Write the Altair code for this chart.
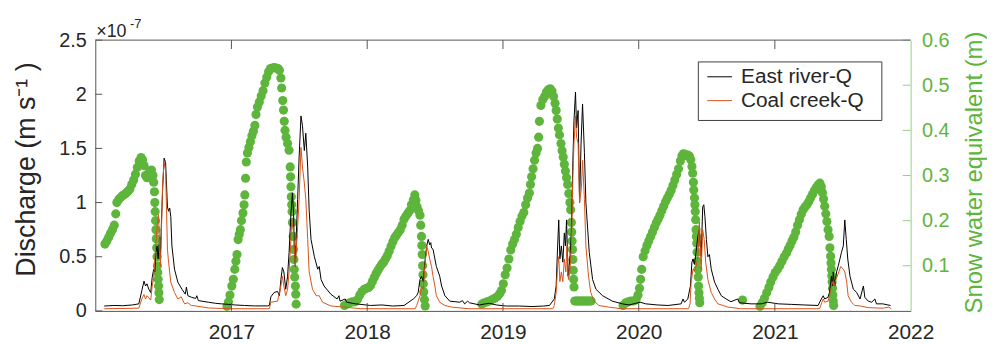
import altair as alt
import pandas as pd

# ---------------- data ----------------
# Discharge in units of 1e-7 m/s
east_river_q = [
    ("2016-01-25", 0.045), ("2016-02-20", 0.05), ("2016-03-15", 0.048), ("2016-04-10", 0.055),
    ("2016-04-27", 0.065), ("2016-05-06", 0.2), ("2016-05-11", 0.275), ("2016-05-15", 0.23),
    ("2016-05-19", 0.25), ("2016-05-24", 0.2), ("2016-05-29", 0.17), ("2016-06-02", 0.31),
    ("2016-06-06", 0.385), ("2016-06-09", 0.36), ("2016-06-12", 0.54), ("2016-06-15", 0.6),
    ("2016-06-18", 0.48), ("2016-06-22", 0.68), ("2016-06-24", 0.48), ("2016-06-27", 0.84),
    ("2016-06-30", 1.12), ("2016-07-04", 1.41), ("2016-07-08", 1.37), ("2016-07-10", 1.21),
    ("2016-07-13", 0.96), ("2016-07-16", 0.92), ("2016-07-19", 0.95), ("2016-07-22", 0.87),
    ("2016-07-25", 0.6), ("2016-08-01", 0.385), ("2016-08-10", 0.265), ("2016-08-21", 0.2),
    ("2016-08-30", 0.155), ("2016-09-02", 0.22), ("2016-09-06", 0.14), ("2016-09-16", 0.125),
    ("2016-09-27", 0.115), ("2016-09-30", 0.14), ("2016-10-04", 0.095), ("2016-10-31", 0.08),
    ("2016-11-20", 0.07), ("2016-12-05", 0.065), ("2016-12-25", 0.06), ("2017-01-10", 0.055),
    ("2017-02-05", 0.05), ("2017-03-04", 0.046), ("2017-04-08", 0.046), ("2017-04-13", 0.05),
    ("2017-04-17", 0.13), ("2017-04-26", 0.17), ("2017-05-05", 0.18), ("2017-05-10", 0.14),
    ("2017-05-14", 0.29), ("2017-05-18", 0.4), ("2017-05-22", 0.36), ("2017-05-27", 0.2),
    ("2017-06-01", 0.32), ("2017-06-05", 0.54), ("2017-06-10", 0.9), ("2017-06-14", 1.09),
    ("2017-06-17", 0.9), ("2017-06-19", 0.6), ("2017-06-22", 0.41), ("2017-06-24", 0.66),
    ("2017-06-28", 1.03), ("2017-07-02", 1.42), ("2017-07-07", 1.8), ("2017-07-11", 1.71),
    ("2017-07-16", 1.48), ("2017-07-20", 1.64), ("2017-07-25", 1.33), ("2017-07-29", 0.93),
    ("2017-08-03", 0.66), ("2017-08-12", 0.5), ("2017-08-21", 0.385), ("2017-08-25", 0.41),
    ("2017-08-30", 0.29), ("2017-09-07", 0.23), ("2017-09-25", 0.155), ("2017-10-12", 0.11),
    ("2017-10-17", 0.14), ("2017-10-20", 0.09), ("2017-11-03", 0.11), ("2017-11-07", 0.08),
    ("2017-12-01", 0.065), ("2018-01-10", 0.05), ("2018-02-10", 0.055), ("2018-03-10", 0.045),
    ("2018-04-10", 0.05), ("2018-05-05", 0.11), ("2018-05-14", 0.14), ("2018-05-18", 0.17),
    ("2018-05-23", 0.29), ("2018-05-27", 0.32), ("2018-06-01", 0.27), ("2018-06-05", 0.45),
    ("2018-06-10", 0.6), ("2018-06-14", 0.66), ("2018-06-18", 0.61), ("2018-06-21", 0.63),
    ("2018-06-23", 0.58), ("2018-06-27", 0.57), ("2018-07-02", 0.48), ("2018-07-06", 0.41),
    ("2018-07-11", 0.36), ("2018-07-15", 0.32), ("2018-07-20", 0.23), ("2018-07-29", 0.14),
    ("2018-08-11", 0.09), ("2018-08-25", 0.085), ("2018-09-07", 0.08), ("2018-09-14", 0.095),
    ("2018-09-20", 0.065), ("2018-09-28", 0.09), ("2018-10-03", 0.075), ("2018-10-30", 0.055),
    ("2018-11-15", 0.065), ("2018-11-26", 0.07), ("2018-12-14", 0.055), ("2019-01-10", 0.045),
    ("2019-02-15", 0.045), ("2019-03-20", 0.04), ("2019-04-20", 0.045), ("2019-05-06", 0.05),
    ("2019-05-19", 0.11), ("2019-05-24", 0.23), ("2019-05-28", 0.6), ("2019-05-31", 0.84),
    ("2019-06-03", 0.48), ("2019-06-07", 0.6), ("2019-06-11", 0.45), ("2019-06-15", 0.72),
    ("2019-06-18", 0.6), ("2019-06-21", 0.84), ("2019-06-25", 0.32), ("2019-06-30", 0.48),
    ("2019-07-04", 0.72), ("2019-07-08", 1.39), ("2019-07-11", 1.76), ("2019-07-15", 2.02),
    ("2019-07-18", 1.69), ("2019-07-22", 1.85), ("2019-07-26", 1.0), ("2019-07-30", 1.55),
    ("2019-08-03", 1.91), ("2019-08-08", 1.46), ("2019-08-12", 1.0), ("2019-08-21", 0.54),
    ("2019-08-30", 0.29), ("2019-09-08", 0.2), ("2019-09-26", 0.14), ("2019-10-22", 0.09),
    ("2019-11-18", 0.065), ("2019-12-06", 0.055), ("2019-12-24", 0.07), ("2020-01-05", 0.08),
    ("2020-01-20", 0.065), ("2020-02-20", 0.055), ("2020-03-20", 0.05), ("2020-04-24", 0.065),
    ("2020-04-29", 0.11), ("2020-05-03", 0.08), ("2020-05-12", 0.11), ("2020-05-19", 0.23),
    ("2020-05-23", 0.45), ("2020-05-26", 0.48), ("2020-05-30", 0.43), ("2020-06-03", 0.54),
    ("2020-06-08", 0.69), ("2020-06-12", 0.75), ("2020-06-17", 0.5), ("2020-06-21", 0.96),
    ("2020-06-24", 0.98), ("2020-06-27", 0.87), ("2020-07-01", 0.66), ("2020-07-05", 0.5),
    ("2020-07-09", 0.52), ("2020-07-14", 0.385), ("2020-07-23", 0.265), ("2020-08-01", 0.2),
    ("2020-08-10", 0.14), ("2020-08-23", 0.11), ("2020-09-05", 0.085), ("2020-09-23", 0.11),
    ("2020-09-28", 0.075), ("2020-10-29", 0.065), ("2020-11-25", 0.065), ("2020-12-13", 0.08),
    ("2021-01-10", 0.065), ("2021-02-15", 0.06), ("2021-03-20", 0.055), ("2021-04-27", 0.05),
    ("2021-05-06", 0.11), ("2021-05-11", 0.14), ("2021-05-15", 0.11), ("2021-05-24", 0.125),
    ("2021-05-28", 0.17), ("2021-06-02", 0.32), ("2021-06-05", 0.23), ("2021-06-07", 0.36),
    ("2021-06-11", 0.23), ("2021-06-16", 0.36), ("2021-06-20", 0.41), ("2021-06-25", 0.48),
    ("2021-06-29", 0.54), ("2021-07-04", 0.6), ("2021-07-07", 0.78), ("2021-07-08", 0.84),
    ("2021-07-12", 0.66), ("2021-07-16", 0.48), ("2021-07-22", 0.32), ("2021-07-31", 0.2),
    ("2021-08-09", 0.17), ("2021-08-18", 0.11), ("2021-08-27", 0.23), ("2021-08-31", 0.125),
    ("2021-09-09", 0.09), ("2021-09-18", 0.08), ("2021-09-27", 0.11), ("2021-10-01", 0.065),
    ("2021-10-18", 0.065), ("2021-11-01", 0.055), ("2021-11-08", 0.05),
]

coal_creek_q = [
    ("2016-01-25", 0.02), ("2016-04-27", 0.025), ("2016-05-06", 0.12), ("2016-05-11", 0.15),
    ("2016-05-15", 0.11), ("2016-05-19", 0.14), ("2016-05-24", 0.12), ("2016-05-29", 0.1),
    ("2016-06-02", 0.23), ("2016-06-06", 0.3), ("2016-06-09", 0.48), ("2016-06-15", 0.78),
    ("2016-06-19", 0.89), ("2016-06-22", 0.6), ("2016-06-24", 0.41), ("2016-06-27", 0.75),
    ("2016-06-30", 1.18), ("2016-07-04", 1.37), ("2016-07-08", 1.3), ("2016-07-13", 0.57),
    ("2016-07-16", 0.45), ("2016-07-22", 0.265), ("2016-08-01", 0.17), ("2016-08-10", 0.11),
    ("2016-08-19", 0.13), ("2016-08-28", 0.065), ("2016-09-06", 0.075), ("2016-09-15", 0.05),
    ("2016-09-27", 0.046), ("2016-10-31", 0.027), ("2016-12-31", 0.02), ("2017-04-13", 0.02),
    ("2017-04-17", 0.08), ("2017-05-05", 0.09), ("2017-05-14", 0.23), ("2017-05-18", 0.32),
    ("2017-05-22", 0.23), ("2017-05-27", 0.14), ("2017-06-01", 0.2), ("2017-06-05", 0.36),
    ("2017-06-10", 0.66), ("2017-06-12", 0.84), ("2017-06-17", 0.72), ("2017-06-22", 0.41),
    ("2017-06-28", 0.78), ("2017-07-02", 1.03), ("2017-07-07", 1.51), ("2017-07-11", 1.33),
    ("2017-07-16", 1.18), ("2017-07-20", 1.03), ("2017-07-25", 0.66), ("2017-07-29", 0.36),
    ("2017-08-07", 0.2), ("2017-08-17", 0.14), ("2017-08-25", 0.14), ("2017-09-03", 0.08),
    ("2017-09-25", 0.046), ("2017-10-31", 0.035), ("2017-12-15", 0.02), ("2018-05-10", 0.02),
    ("2018-05-14", 0.05), ("2018-05-23", 0.14), ("2018-05-27", 0.23), ("2018-06-01", 0.2),
    ("2018-06-05", 0.41), ("2018-06-10", 0.6), ("2018-06-14", 0.55), ("2018-06-18", 0.48),
    ("2018-06-23", 0.41), ("2018-06-27", 0.32), ("2018-07-02", 0.23), ("2018-07-06", 0.14),
    ("2018-07-15", 0.08), ("2018-07-29", 0.05), ("2018-08-16", 0.035), ("2018-10-01", 0.02),
    ("2019-05-15", 0.02), ("2019-05-19", 0.05), ("2019-05-24", 0.17), ("2019-05-28", 0.41),
    ("2019-05-31", 0.5), ("2019-06-03", 0.27), ("2019-06-07", 0.36), ("2019-06-11", 0.27),
    ("2019-06-15", 0.48), ("2019-06-19", 0.36), ("2019-06-22", 0.6), ("2019-06-26", 0.29),
    ("2019-06-30", 0.36), ("2019-07-04", 0.6), ("2019-07-08", 1.24), ("2019-07-11", 1.55),
    ("2019-07-15", 1.8), ("2019-07-18", 1.6), ("2019-07-22", 1.55), ("2019-07-26", 1.0),
    ("2019-07-31", 1.14), ("2019-08-03", 1.39), ("2019-08-08", 1.03), ("2019-08-12", 0.6),
    ("2019-08-19", 0.32), ("2019-08-25", 0.17), ("2019-09-03", 0.09), ("2019-09-16", 0.05),
    ("2019-10-12", 0.035), ("2019-11-15", 0.02), ("2020-05-14", 0.02), ("2020-05-18", 0.065),
    ("2020-05-21", 0.265), ("2020-05-26", 0.385), ("2020-05-30", 0.37), ("2020-06-03", 0.41),
    ("2020-06-08", 0.5), ("2020-06-12", 0.82), ("2020-06-17", 0.385), ("2020-06-21", 0.75),
    ("2020-06-25", 0.66), ("2020-06-29", 0.45), ("2020-07-05", 0.29), ("2020-07-14", 0.17),
    ("2020-07-23", 0.11), ("2020-08-01", 0.065), ("2020-08-28", 0.035), ("2020-10-01", 0.02),
    ("2021-05-01", 0.02), ("2021-05-06", 0.065), ("2021-05-11", 0.11), ("2021-05-15", 0.08),
    ("2021-05-24", 0.09), ("2021-05-30", 0.17), ("2021-06-05", 0.27), ("2021-06-09", 0.23),
    ("2021-06-14", 0.29), ("2021-06-20", 0.34), ("2021-06-27", 0.41), ("2021-07-04", 0.385),
    ("2021-07-08", 0.36), ("2021-07-13", 0.27), ("2021-07-17", 0.14), ("2021-07-26", 0.08),
    ("2021-08-04", 0.05), ("2021-08-20", 0.045), ("2021-09-09", 0.03), ("2021-10-18", 0.025),
    ("2021-11-03", 0.035), ("2021-11-10", 0.02),
]

# Snow water equivalent (m)
swe_2016 = [
    ("2016-01-27", 0.148), ("2016-02-01", 0.155), ("2016-02-06", 0.163), ("2016-02-11", 0.172),
    ("2016-02-16", 0.18), ("2016-02-21", 0.19), ("2016-02-25", 0.215), ("2016-02-28", 0.24),
    ("2016-03-04", 0.247), ("2016-03-09", 0.251), ("2016-03-14", 0.255), ("2016-03-19", 0.258),
    ("2016-03-24", 0.261), ("2016-03-29", 0.265), ("2016-04-03", 0.27), ("2016-04-08", 0.28),
    ("2016-04-13", 0.29), ("2016-04-18", 0.303), ("2016-04-23", 0.318), ("2016-04-28", 0.332),
    ("2016-05-03", 0.34), ("2016-05-07", 0.335), ("2016-05-11", 0.322), ("2016-05-15", 0.3),
    ("2016-05-19", 0.295), ("2016-05-23", 0.305), ("2016-05-27", 0.31), ("2016-05-31", 0.312),
    ("2016-06-04", 0.3), ("2016-06-06", 0.285), ("2016-06-08", 0.264), ("2016-06-09", 0.24),
    ("2016-06-10", 0.22), ("2016-06-11", 0.2), ("2016-06-12", 0.18), ("2016-06-13", 0.16),
    ("2016-06-14", 0.14), ("2016-06-15", 0.12), ("2016-06-16", 0.1), ("2016-06-17", 0.085),
    ("2016-06-18", 0.07), ("2016-06-19", 0.055), ("2016-06-20", 0.04), ("2016-06-21", 0.025),
]
swe_2017 = [
    ("2016-12-20", 0.01), ("2016-12-24", 0.02), ("2016-12-28", 0.035), ("2017-01-02", 0.055),
    ("2017-01-06", 0.07), ("2017-01-10", 0.092), ("2017-01-13", 0.11), ("2017-01-16", 0.125),
    ("2017-01-19", 0.158), ("2017-01-22", 0.17), ("2017-01-25", 0.18), ("2017-01-28", 0.2),
    ("2017-02-01", 0.217), ("2017-02-04", 0.235), ("2017-02-06", 0.257), ("2017-02-08", 0.294),
    ("2017-02-10", 0.33), ("2017-02-13", 0.35), ("2017-02-17", 0.362), ("2017-02-21", 0.375),
    ("2017-02-25", 0.388), ("2017-03-01", 0.398), ("2017-03-05", 0.411), ("2017-03-08", 0.435),
    ("2017-03-12", 0.452), ("2017-03-17", 0.463), ("2017-03-22", 0.476), ("2017-03-27", 0.488),
    ("2017-04-01", 0.505), ("2017-04-06", 0.518), ("2017-04-11", 0.53), ("2017-04-16", 0.537),
    ("2017-04-21", 0.538), ("2017-04-26", 0.539), ("2017-05-01", 0.538), ("2017-05-06", 0.537),
    ("2017-05-10", 0.533), ("2017-05-14", 0.516), ("2017-05-16", 0.494), ("2017-05-19", 0.466),
    ("2017-05-21", 0.445), ("2017-05-23", 0.42), ("2017-05-25", 0.4), ("2017-05-28", 0.385),
    ("2017-06-01", 0.371), ("2017-06-05", 0.356), ("2017-06-08", 0.319), ("2017-06-09", 0.297),
    ("2017-06-10", 0.275), ("2017-06-11", 0.253), ("2017-06-12", 0.235), ("2017-06-13", 0.22),
    ("2017-06-14", 0.196), ("2017-06-16", 0.165), ("2017-06-17", 0.136), ("2017-06-18", 0.114),
    ("2017-06-19", 0.092), ("2017-06-20", 0.075), ("2017-06-22", 0.055), ("2017-06-23", 0.037),
    ("2017-06-24", 0.015),
]
swe_2018 = [
    ("2017-11-01", 0.012), ("2017-11-08", 0.015), ("2017-11-15", 0.018), ("2017-11-22", 0.02),
    ("2017-11-29", 0.02), ("2017-12-06", 0.025), ("2017-12-12", 0.035), ("2017-12-18", 0.043),
    ("2017-12-24", 0.048), ("2017-12-30", 0.05), ("2018-01-05", 0.052), ("2018-01-10", 0.056),
    ("2018-01-15", 0.065), ("2018-01-20", 0.074), ("2018-01-25", 0.083), ("2018-01-30", 0.09),
    ("2018-02-04", 0.097), ("2018-02-09", 0.103), ("2018-02-14", 0.108), ("2018-02-19", 0.115),
    ("2018-02-24", 0.122), ("2018-03-01", 0.132), ("2018-03-06", 0.143), ("2018-03-11", 0.153),
    ("2018-03-16", 0.162), ("2018-03-21", 0.168), ("2018-03-26", 0.174), ("2018-03-31", 0.18),
    ("2018-04-05", 0.19), ("2018-04-10", 0.203), ("2018-04-15", 0.21), ("2018-04-20", 0.216),
    ("2018-04-25", 0.222), ("2018-04-30", 0.235), ("2018-05-05", 0.246), ("2018-05-09", 0.257),
    ("2018-05-12", 0.245), ("2018-05-15", 0.231), ("2018-05-19", 0.222), ("2018-05-23", 0.212),
    ("2018-05-25", 0.19), ("2018-05-27", 0.165), ("2018-05-28", 0.145), ("2018-05-29", 0.125),
    ("2018-05-30", 0.1), ("2018-05-31", 0.08), ("2018-06-01", 0.06), ("2018-06-02", 0.042),
    ("2018-06-04", 0.025), ("2018-06-06", 0.011),
]
swe_2019 = [
    ("2018-11-05", 0.015), ("2018-11-12", 0.018), ("2018-11-19", 0.02), ("2018-11-26", 0.022),
    ("2018-12-03", 0.025), ("2018-12-10", 0.028), ("2018-12-17", 0.032), ("2018-12-23", 0.038),
    ("2018-12-28", 0.045), ("2019-01-02", 0.06), ("2019-01-07", 0.08), ("2019-01-12", 0.095),
    ("2019-01-17", 0.115), ("2019-01-22", 0.135), ("2019-01-27", 0.148), ("2019-02-01", 0.158),
    ("2019-02-06", 0.17), ("2019-02-11", 0.185), ("2019-02-16", 0.198), ("2019-02-21", 0.21),
    ("2019-02-26", 0.218), ("2019-03-03", 0.235), ("2019-03-08", 0.25), ("2019-03-13", 0.261),
    ("2019-03-16", 0.28), ("2019-03-19", 0.297), ("2019-03-23", 0.315), ("2019-03-27", 0.334),
    ("2019-03-31", 0.35), ("2019-04-04", 0.36), ("2019-04-07", 0.385), ("2019-04-09", 0.42),
    ("2019-04-13", 0.455), ("2019-04-18", 0.468), ("2019-04-23", 0.475), ("2019-04-28", 0.485),
    ("2019-05-03", 0.49), ("2019-05-08", 0.492), ("2019-05-13", 0.487), ("2019-05-17", 0.475),
    ("2019-05-21", 0.46), ("2019-05-24", 0.444), ("2019-05-27", 0.425), ("2019-05-30", 0.405),
    ("2019-06-02", 0.39), ("2019-06-06", 0.371), ("2019-06-09", 0.355), ("2019-06-12", 0.341),
    ("2019-06-15", 0.325), ("2019-06-18", 0.31), ("2019-06-21", 0.295), ("2019-06-24", 0.28),
    ("2019-06-27", 0.26), ("2019-06-30", 0.24), ("2019-07-02", 0.224), ("2019-07-04", 0.196),
    ("2019-07-05", 0.175), ("2019-07-06", 0.155), ("2019-07-07", 0.136), ("2019-07-08", 0.114),
    ("2019-07-09", 0.09), ("2019-07-10", 0.07), ("2019-07-11", 0.053), ("2019-07-13", 0.022),
    ("2019-07-17", 0.022), ("2019-07-21", 0.022), ("2019-07-25", 0.022), ("2019-07-29", 0.022),
    ("2019-08-02", 0.022), ("2019-08-06", 0.022), ("2019-08-10", 0.022), ("2019-08-14", 0.022),
    ("2019-08-18", 0.022), ("2019-08-22", 0.022), ("2019-08-26", 0.022),
]
swe_2020 = [
    ("2019-11-20", 0.012), ("2019-11-27", 0.018), ("2019-12-04", 0.02), ("2019-12-11", 0.022),
    ("2019-12-18", 0.022), ("2019-12-25", 0.025), ("2019-12-30", 0.035), ("2020-01-03", 0.05),
    ("2020-01-06", 0.07), ("2020-01-09", 0.092), ("2020-01-13", 0.12), ("2020-01-18", 0.133),
    ("2020-01-23", 0.145), ("2020-01-28", 0.155), ("2020-02-02", 0.165), ("2020-02-07", 0.175),
    ("2020-02-12", 0.185), ("2020-02-17", 0.195), ("2020-02-22", 0.203), ("2020-02-27", 0.212),
    ("2020-03-03", 0.222), ("2020-03-08", 0.232), ("2020-03-13", 0.242), ("2020-03-18", 0.25),
    ("2020-03-23", 0.258), ("2020-03-28", 0.267), ("2020-04-02", 0.278), ("2020-04-07", 0.29),
    ("2020-04-12", 0.302), ("2020-04-17", 0.315), ("2020-04-22", 0.332), ("2020-04-26", 0.343),
    ("2020-04-30", 0.348), ("2020-05-04", 0.347), ("2020-05-08", 0.344), ("2020-05-12", 0.345),
    ("2020-05-16", 0.343), ("2020-05-20", 0.335), ("2020-05-23", 0.32), ("2020-05-25", 0.305),
    ("2020-05-27", 0.285), ("2020-05-28", 0.268), ("2020-05-30", 0.25), ("2020-05-31", 0.235),
    ("2020-06-01", 0.22), ("2020-06-02", 0.202), ("2020-06-03", 0.18), ("2020-06-04", 0.165),
    ("2020-06-05", 0.15), ("2020-06-06", 0.13), ("2020-06-07", 0.11), ("2020-06-08", 0.092),
    ("2020-06-09", 0.075), ("2020-06-10", 0.055), ("2020-06-11", 0.04), ("2020-06-12", 0.028),
    ("2020-06-13", 0.018), ("2020-10-06", 0.024),
]
swe_2021 = [
    ("2020-11-22", 0.01), ("2020-11-28", 0.018), ("2020-12-04", 0.028), ("2020-12-10", 0.04),
    ("2020-12-16", 0.052), ("2020-12-21", 0.064), ("2020-12-27", 0.075), ("2021-01-02", 0.085),
    ("2021-01-08", 0.092), ("2021-01-14", 0.1), ("2021-01-20", 0.11), ("2021-01-26", 0.12),
    ("2021-02-01", 0.128), ("2021-02-06", 0.137), ("2021-02-11", 0.145), ("2021-02-16", 0.155),
    ("2021-02-21", 0.163), ("2021-02-26", 0.175), ("2021-03-03", 0.19), ("2021-03-08", 0.202),
    ("2021-03-13", 0.214), ("2021-03-18", 0.224), ("2021-03-23", 0.23), ("2021-03-28", 0.235),
    ("2021-04-02", 0.242), ("2021-04-07", 0.25), ("2021-04-12", 0.258), ("2021-04-17", 0.266),
    ("2021-04-22", 0.273), ("2021-04-27", 0.279), ("2021-05-02", 0.283), ("2021-05-06", 0.275),
    ("2021-05-09", 0.262), ("2021-05-12", 0.248), ("2021-05-15", 0.232), ("2021-05-18", 0.215),
    ("2021-05-21", 0.198), ("2021-05-24", 0.18), ("2021-05-27", 0.165), ("2021-05-29", 0.14),
    ("2021-05-31", 0.121), ("2021-06-01", 0.106), ("2021-06-02", 0.092), ("2021-06-03", 0.078),
    ("2021-06-04", 0.064), ("2021-06-05", 0.05), ("2021-06-06", 0.035), ("2021-06-07", 0.022),
    ("2021-06-08", 0.012),
]

year_ticks = ["2017-01-01", "2018-01-01", "2019-01-01", "2020-01-01", "2021-01-01"]
year_labels = [2017, 2018, 2019, 2020, 2021, 2022]
q_ticks = [0, 0.5, 1, 1.5, 2, 2.5]
swe_ticks = [0.1, 0.2, 0.3, 0.4, 0.5, 0.6]
legend_labels = ["East river-Q", "Coal creek-Q"]

# ---------------- styling ----------------
W, H = 822, 273
FONT = "Liberation Sans"
DARK = "#262626"
AX = "#555555"
GREEN = "#5DB53C"
GREEN_AX = "#96CF80"
ORANGE = "#D95319"

east = pd.DataFrame(east_river_q, columns=["date", "q"])
coal = pd.DataFrame(coal_creek_q, columns=["date", "q"])
swe = pd.DataFrame(swe_2016 + swe_2017 + swe_2018 + swe_2019 + swe_2020 + swe_2021,
                   columns=["date", "swe"])
one = pd.DataFrame({"a": [0]})

xscale = alt.Scale(type="utc", nice=False,
                   domain=[alt.DateTime(year=2016, month=1, date=1, utc=True),
                           alt.DateTime(year=2022, month=1, date=1, utc=True)])
xaxis = alt.Axis(values=[alt.DateTime(year=y, month=1, date=1, utc=True) for y in year_labels],
                 format="%Y", labelFont=FONT, labelFontSize=21, labelColor=DARK,
                 domainColor=AX, domainWidth=1, ticks=False, grid=False, labelPadding=11,
                 labelFlush=False, labelOverlap=False)


def X(field):
    return alt.X(f"{field}:T", scale=xscale, axis=xaxis, title=None)


qscale = alt.Scale(domain=[0, 2.5], nice=False)
sscale = alt.Scale(domain=[0, 0.6], nice=False)

left_axis = alt.Axis(orient="left", values=q_ticks, format="~g", labelFont=FONT,
                     labelFontSize=20, labelColor=DARK, domainColor=AX, domainWidth=1,
                     ticks=False, grid=False, labelPadding=9,
                     title="Discharge (m  s\u207b\u00b9 )", titleFont=FONT, titleFontSize=27,
                     titleFontWeight="normal", titleColor=DARK, titleAngle=270,
                     titleX=-69, titleY=130, titleAlign="center", titleBaseline="middle")
right_axis = alt.Axis(orient="right", values=swe_ticks, format="~g", labelFont=FONT,
                      labelFontSize=20, labelColor=GREEN, domainColor=GREEN_AX, domainWidth=1,
                      ticks=False, grid=False, labelPadding=11,
                      title="Snow water equivalent (m)", titleFont=FONT, titleFontSize=24,
                      titleFontWeight="normal", titleColor=GREEN, titleAngle=270,
                      titleX=64, titleY=133, titleAlign="center", titleBaseline="middle")

dots = alt.Chart(swe).mark_circle(size=85, color=GREEN, opacity=1).encode(
    x=X("date"), y=alt.Y("swe:Q", scale=sscale, axis=right_axis))

east_line = alt.Chart(east).mark_line(color="black", strokeWidth=1).encode(
    x=X("date"), y=alt.Y("q:Q", scale=qscale, axis=left_axis))
coal_line = alt.Chart(coal).mark_line(color=ORANGE, strokeWidth=1).encode(
    x=X("date"), y=alt.Y("q:Q", scale=qscale, axis=None))

left_ticks = alt.Chart(pd.DataFrame({"v": q_ticks})).mark_rule(color=AX, strokeWidth=1).encode(
    y=alt.Y("v:Q", scale=qscale, axis=None), x=alt.value(0), x2=alt.value(7))
right_ticks = alt.Chart(pd.DataFrame({"v": swe_ticks})).mark_rule(color=GREEN_AX, strokeWidth=1).encode(
    y=alt.Y("v:Q", scale=sscale, axis=None), x=alt.value(W - 8), x2=alt.value(W))
yt = pd.DataFrame({"d": year_ticks})
bottom_ticks = alt.Chart(yt).mark_rule(color=AX, strokeWidth=1).encode(
    x=X("d"), y=alt.value(H - 8), y2=alt.value(H))
top_ticks = alt.Chart(yt).mark_rule(color=AX, strokeWidth=1).encode(
    x=X("d"), y=alt.value(0), y2=alt.value(9))
top_border = alt.Chart(one).mark_rule(color=AX, strokeWidth=1).encode(
    x=alt.value(0), x2=alt.value(W), y=alt.value(0))

exp_base = alt.Chart(one).mark_text(text="\u00d710", font=FONT, fontSize=18, color=DARK,
                                     align="left", baseline="alphabetic").encode(
    x=alt.value(1), y=alt.value(-3))
exp_sup = alt.Chart(one).mark_text(text="-7", font=FONT, fontSize=13, color=DARK,
                                    align="left", baseline="alphabetic").encode(
    x=alt.value(35), y=alt.value(-12))

legend_box = alt.Chart(one).mark_rect(fill="white", stroke="#3d3d3d", strokeWidth=1).encode(
    x=alt.value(608), x2=alt.value(793), y=alt.value(22), y2=alt.value(81))
leg_line1 = alt.Chart(one).mark_rule(color="black", strokeWidth=1).encode(
    x=alt.value(617), x2=alt.value(642), y=alt.value(37))
leg_line2 = alt.Chart(one).mark_rule(color=ORANGE, strokeWidth=1).encode(
    x=alt.value(617), x2=alt.value(642), y=alt.value(61))
leg_text1 = alt.Chart(one).mark_text(text=legend_labels[0], font=FONT, fontSize=21, color=DARK,
                                      align="left", baseline="middle").encode(
    x=alt.value(651), y=alt.value(37))
leg_text2 = alt.Chart(one).mark_text(text=legend_labels[1], font=FONT, fontSize=21, color=DARK,
                                      align="left", baseline="middle").encode(
    x=alt.value(651), y=alt.value(61))

chart = alt.layer(
    dots, east_line, coal_line, left_ticks, right_ticks, bottom_ticks, top_ticks, top_border,
    exp_base, exp_sup, legend_box, leg_line1, leg_line2, leg_text1, leg_text2,
).resolve_scale(y="independent").properties(
    width=W, height=H,
    autosize=alt.AutoSizeParams(type="none"),
    padding={"left": 88, "top": 31, "right": 77, "bottom": 32},
).configure_view(stroke=None)

chart.save("out.html", embed_options={"renderer": "svg", "actions": False})
